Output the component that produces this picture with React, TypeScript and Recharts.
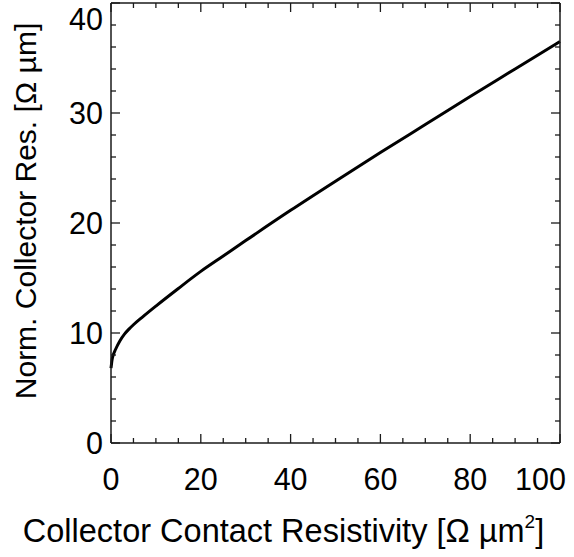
import React from "react";
import { LineChart, Line, XAxis, YAxis, Label } from "recharts";

// contact resistivity [Ω µm²] and normalized collector resistance [Ω µm]
const resistivity = [0, 0.25, 0.5, 1, 2, 3, 4, 5, 7, 10, 15, 20, 25, 30, 40, 50, 60, 70, 80, 90, 100];
const collectorRes = [6.8, 7.6, 8.0, 8.5, 9.3, 9.9, 10.35, 10.75, 11.45, 12.45, 14.05, 15.6, 17.0, 18.4, 21.15, 23.8, 26.4, 28.95, 31.5, 34.0, 36.5];

const xTicks = [0, 5, 10, 15, 20, 25, 30, 35, 40, 45, 50, 55, 60, 65, 70, 75, 80, 85, 90, 95, 100];
const xLabels = [0, 20, 40, 60, 80, 100];
const yTicks = [0, 2, 4, 6, 8, 10, 12, 14, 16, 18, 20, 22, 24, 26, 28, 30, 32, 34, 36, 38, 40];
const yLabels = [0, 10, 20, 30, 40];

const data = resistivity.map((x, i) => ({ x, r: collectorRes[i] }));

const W = 574;
const H = 557;
const FONT = '"Liberation Sans", Arial, Helvetica, sans-serif';
const TICK_FS = 30.5;
const YLABEL_FS = 30;
const XLABEL_FS = 32.5;
const INK = "#1a1a1a";
const MAJOR = 9;
const MINOR = 5;

// keep tick text inside the picture, like the original did
const clamp = (v: number, lo: number, hi: number) => Math.min(Math.max(v, lo), hi);

function LeftTick(props: any) {
  const { x, y, payload } = props;
  const v = payload.value;
  const major = yLabels.includes(v);
  return (
    <g>
      <line x1={x} x2={x + (major ? MAJOR : MINOR)} y1={y} y2={y} stroke={INK} strokeWidth={1.3} />
      {major && (
        <text
          x={x - 8}
          y={clamp(y, 19, H)}
          dy="0.36em"
          textAnchor="end"
          fontSize={TICK_FS}
          fontFamily={FONT}
          fill="#000"
        >
          {v}
        </text>
      )}
    </g>
  );
}

function RightTick(props: any) {
  const { x, y, payload } = props;
  const major = yLabels.includes(payload.value);
  return <line x1={x} x2={x - (major ? MAJOR : MINOR)} y1={y} y2={y} stroke={INK} strokeWidth={1.3} />;
}

function BottomTick(props: any) {
  const { x, y, payload } = props;
  const v = payload.value;
  const major = xLabels.includes(v);
  const half = (String(v).length * 0.556 * TICK_FS) / 2;
  return (
    <g>
      <line x1={x} x2={x} y1={y} y2={y - (major ? MAJOR : MINOR)} stroke={INK} strokeWidth={1.3} />
      {major && (
        <text
          x={clamp(x, half, W - 8 - half)}
          y={y + 36}
          dy="0.36em"
          textAnchor="middle"
          fontSize={TICK_FS}
          fontFamily={FONT}
          fill="#000"
        >
          {v}
        </text>
      )}
    </g>
  );
}

function TopTick(props: any) {
  const { x, y, payload } = props;
  const major = xLabels.includes(payload.value);
  return <line x1={x} x2={x} y1={y} y2={y + (major ? MAJOR : MINOR)} stroke={INK} strokeWidth={1.3} />;
}

function XTitle(props: any) {
  const { viewBox } = props;
  const cx = viewBox.x + viewBox.width / 2 - 52;
  return (
    <text x={cx} y={542} textAnchor="middle" fontSize={XLABEL_FS} fontFamily={FONT} fill="#000">
      Collector Contact Resistivity [Ω µm
      <tspan dy={-14} fontSize={19}>2</tspan>
      <tspan dy={14}>]</tspan>
    </text>
  );
}

function YTitle() {
  return (
    <text
      x={36}
      y={211}
      transform="rotate(-90, 36, 211)"
      textAnchor="middle"
      fontSize={YLABEL_FS}
      fontFamily={FONT}
      fill="#000"
    >
      Norm. Collector Res. [Ω µm]
    </text>
  );
}

export default function App() {
  return (
    <div style={{ position: "absolute", left: 0, top: 0, width: W, height: H, background: "#fff" }}>
      <LineChart width={W} height={H} data={data} margin={{ top: 2, right: 13, bottom: 0, left: 0 }}>
        <XAxis
          dataKey="x"
          type="number"
          domain={[0, 100]}
          ticks={xTicks}
          interval={0}
          height={114}
          tickSize={0}
          tickMargin={0}
          tickLine={false}
          axisLine={{ stroke: INK, strokeWidth: 1.5 }}
          tick={<BottomTick />}
        >
          <Label content={<XTitle />} />
        </XAxis>
        <XAxis
          xAxisId="top"
          orientation="top"
          dataKey="x"
          type="number"
          domain={[0, 100]}
          ticks={xTicks}
          interval={0}
          height={1}
          tickSize={0}
          tickMargin={0}
          tickLine={false}
          axisLine={{ stroke: INK, strokeWidth: 1.5 }}
          tick={<TopTick />}
        />
        <YAxis
          type="number"
          domain={[0, 40]}
          ticks={yTicks}
          interval={0}
          width={111}
          tickSize={0}
          tickMargin={0}
          tickLine={false}
          axisLine={{ stroke: INK, strokeWidth: 1.5 }}
          tick={<LeftTick />}
        >
          <Label content={<YTitle />} />
        </YAxis>
        <YAxis
          yAxisId="right"
          orientation="right"
          type="number"
          domain={[0, 40]}
          ticks={yTicks}
          interval={0}
          width={1}
          tickSize={0}
          tickMargin={0}
          tickLine={false}
          axisLine={{ stroke: INK, strokeWidth: 1.5 }}
          tick={<RightTick />}
        />
        <Line
          type="monotone"
          dataKey="r"
          stroke="#000"
          strokeWidth={3}
          dot={false}
          isAnimationActive={false}
        />
        {/* invisible series so the mirrored axes get their ticks */}
        <Line
          xAxisId="top"
          yAxisId="right"
          dataKey="r"
          stroke="none"
          dot={false}
          legendType="none"
          isAnimationActive={false}
        />
      </LineChart>
    </div>
  );
}
